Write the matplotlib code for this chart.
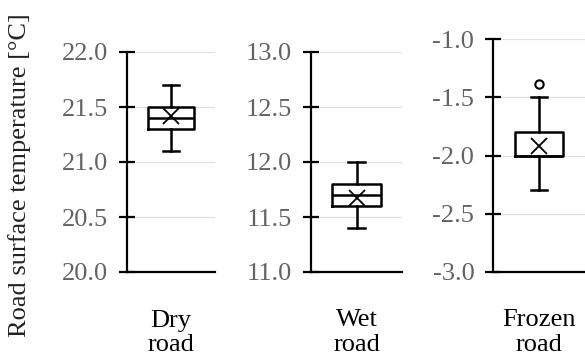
import matplotlib.pyplot as plt
from matplotlib.ticker import FormatStrFormatter

plt.rcParams['font.family'] = ['Liberation Serif', 'DejaVu Serif']
plt.rcParams['axes.unicode_minus'] = False

# box stats
labels = ['Dry\nroad', 'Wet\nroad', 'Frozen\nroad']
whislo = [21.1, 11.4, -2.3]
q1 = [21.3, 11.6, -2.0]
med = [21.4, 11.7, -2.0]
q3 = [21.5, 11.8, -1.8]
whishi = [21.7, 12.0, -1.5]
means = [21.42, 11.67, -1.92]
fliers = [[], [], [-1.39]]
ylims = [(20.0, 22.0), (11.0, 13.0), (-3.0, -1.0)]

fig = plt.figure(figsize=(5.85, 3.58), dpi=100)
W, H = 585, 358
# axes boxes in pixels: left, right, top
boxes_px = [(127, 215, 52), (311, 402, 52), (493, 585, 39)]
bottom = 272

for i in range(3):
    l, r, t = boxes_px[i]
    ax = fig.add_axes([l / W, 1 - bottom / H, (r - l) / W, (bottom - t) / H])
    st = [{'whislo': whislo[i], 'q1': q1[i], 'med': med[i], 'q3': q3[i],
           'whishi': whishi[i], 'mean': means[i], 'fliers': fliers[i]}]
    ax.bxp(st, positions=[1], widths=0.53, showmeans=True,
           boxprops=dict(color='black', linewidth=1.8),
           medianprops=dict(color='black', linewidth=1.8),
           whiskerprops=dict(color='black', linewidth=1.8),
           capprops=dict(color='black', linewidth=1.8),
           capwidths=0.18,
           meanprops=dict(marker='x', markeredgecolor='black', markersize=12, markeredgewidth=1.3),
           flierprops=dict(marker='o', markerfacecolor='none', markeredgecolor='black',
                           markersize=6, markeredgewidth=1.5))
    ax.set_xlim(0.5, 1.5)
    ax.set_ylim(*ylims[i])
    lo, hi = ylims[i]
    ax.set_yticks([lo + 0.5 * k for k in range(5)])
    ax.yaxis.set_major_formatter(FormatStrFormatter('%.1f'))
    ax.grid(axis='y', color='#e0e0e0', linewidth=0.9)
    ax.set_axisbelow(True)
    for s in ['top', 'right']:
        ax.spines[s].set_visible(False)
    for s in ['left', 'bottom']:
        ax.spines[s].set_linewidth(1.6)
    ax.tick_params(axis='y', direction='inout', length=11, width=1.6,
                   labelsize=19, labelcolor='#636363', pad=8)
    ax.set_xticks([1])
    ax.set_xticklabels([labels[i]], fontsize=19, linespacing=1.12)
    ax.tick_params(axis='x', length=0, pad=27)

fig.text(20 / W, 1 - 175 / H, 'Road surface temperature [°C]', rotation=90,
         ha='center', va='center', fontsize=19, color='#222222')

fig.savefig('out.png', dpi=100)
